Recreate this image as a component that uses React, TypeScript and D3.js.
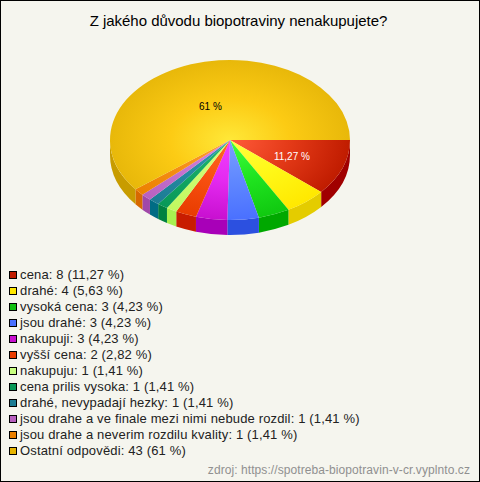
import React from "react";
import * as d3 from "d3";

const title = "Z jakého důvodu biopotraviny nenakupujete?";
const source = "zdroj: https://spotreba-biopotravin-v-cr.vyplnto.cz";
const categories = ["cena", "drahé", "vysoká cena", "jsou drahé", "nakupuji", "vyšší cena", "nakupuju", "cena prilis vysoka", "drahé, nevypadají hezky", "jsou drahe a ve finale mezi nimi nebude rozdil", "jsou drahe a neverim rozdilu kvality", "Ostatní odpovědi"];
const counts = [8, 4, 3, 3, 3, 2, 1, 1, 1, 1, 1, 43];
const percents = ["11,27", "5,63", "4,23", "4,23", "4,23", "2,82", "1,41", "1,41", "1,41", "1,41", "1,41", "61"];
const lightColors = ["#ff5a3a", "#ffff40", "#40ff40", "#7aa0ff", "#f040ff", "#ff6a20", "#d8ff80", "#20b870", "#3098b0", "#d888e0", "#ffa030", "#ffe838"];
const midColors = ["#e43a18", "#fff818", "#20e420", "#6088ff", "#e42af0", "#f85010", "#ccfc70", "#14a864", "#268aa2", "#c874d0", "#f69018", "#fccb14"];
const darkColors = ["#c01c00", "#ffe800", "#10c810", "#4a70ff", "#c810d0", "#e83c00", "#c0f860", "#089858", "#1c7c94", "#b860c0", "#ec8000", "#e8b80a"];
const sideColors = ["#a00000", "#e4cc00", "#00a800", "#2c50e0", "#a800b8", "#c81c00", "#a8f050", "#008040", "#006c84", "#a048a8", "#d86800", "#c89c00"];
const legendColors = ["#c01c00", "#ffe800", "#10c010", "#4a70ff", "#c810d0", "#e83c00", "#c8ff80", "#089858", "#1c7c94", "#b860c0", "#ec8000", "#e6b400"];
const labelled = [0, 11];
const labelScaleX = [1.1, 1.0];
const labelScaleY = [1.2, 0.87];

const cx = 230, cy = 140, rx = 120, ry = 80, depth = 15;
const FONT = "'Liberation Sans', Arial, sans-serif";

export default function App() {
  const yScale = ry / rx;
  const d = depth / yScale;
  const arcs = d3.pie<number>().sort(null).startAngle(Math.PI / 2).endAngle(Math.PI * 2.5)(counts);
  const arc = d3.arc<d3.PieArcDatum<number>>().innerRadius(0).outerRadius(rx);
  const side = (a: d3.PieArcDatum<number>) => {
    const a0 = Math.max(a.startAngle - Math.PI / 2, 0);
    const a1 = Math.min(a.endAngle - Math.PI / 2, Math.PI);
    if (a1 <= a0) return null;
    const p = d3.path();
    p.arc(0, 0, rx, a0, a1);
    p.lineTo(rx * Math.cos(a1), d + rx * Math.sin(a1));
    p.arc(0, d, rx, a1, a0, true);
    p.closePath();
    return p.toString();
  };
  const y = d3.scaleLinear().domain([0, 1]).range([274, 290]);
  return (
    <svg width={480} height={482} style={{ position: "absolute", left: 0, top: 0, fontFamily: FONT }}>
      <defs>
        {counts.map((_, i) => (
          <radialGradient key={i} id={`g${i}`} gradientUnits="userSpaceOnUse" cx={0} cy={0} r={rx}>
            <stop offset="0" stopColor={lightColors[i]} />
            <stop offset="0.5" stopColor={midColors[i]} />
            <stop offset="1" stopColor={darkColors[i]} />
          </radialGradient>
        ))}
      </defs>
      <rect x={0.5} y={0.5} width={479} height={481} fill="#f5f5ee" stroke="#000" />
      <text x={238.5} y={26} textAnchor="middle" fontSize={15} letterSpacing={-0.02} fill="#000">{title}</text>
      <g transform={`translate(${cx},${cy}) scale(1,${yScale})`}>
        {arcs.map((a, i) => {
          const s = side(a);
          return s ? <path key={i} d={s} fill={sideColors[i]} /> : null;
        })}
        {arcs.map((a, i) => (
          <path key={i} d={arc(a) ?? ""} fill={`url(#g${i})`} />
        ))}
      </g>
      {labelled.map((i, j) => {
        const [lx, ly] = arc.centroid(arcs[i]);
        return (
          <text key={i} x={cx + lx * labelScaleX[j]} y={cy + ly * labelScaleY[j] * yScale + 3} textAnchor="middle" fontSize={10} fill={i === 0 ? "#fff" : "#000"}>
            {percents[i]} %
          </text>
        );
      })}
      {categories.map((c, i) => (
        <g key={i}>
          <rect x={9.5} y={y(i) - 2.5} width={7} height={7} fill={legendColors[i]} stroke="#000" />
          <text x={20} y={y(i) + 5} fontSize={13} letterSpacing={0.15} fill="#222">{`${c}: ${counts[i]} (${percents[i]} %)`}</text>
        </g>
      ))}
      <text x={470} y={474} textAnchor="end" fontSize={12} letterSpacing={0.08} fill="#909090">{source}</text>
    </svg>
  );
}
